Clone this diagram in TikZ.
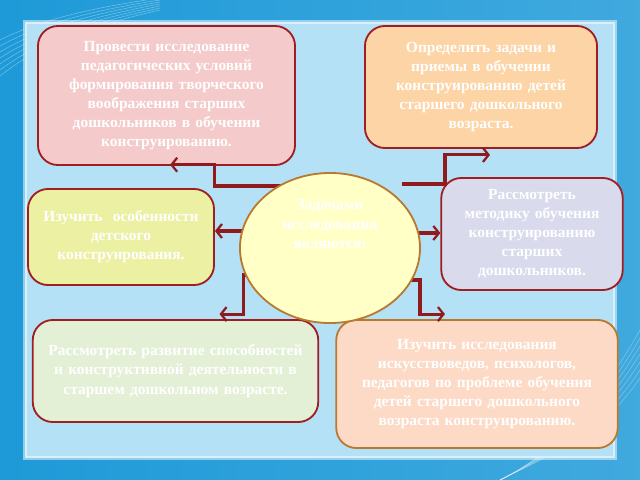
\documentclass[tikz,border=0pt]{standalone}
\usepackage{fontspec}
\setmainfont{Liberation Serif}
\usepackage{tikz}
\usetikzlibrary{arrows.meta, shapes.geometric, backgrounds}
\pgfdeclarelayer{front}
\pgfsetlayers{background,main,front}
\definecolor{seablue}{HTML}{1E9AD8}
\definecolor{panelblue}{HTML}{B4E1F6}
\definecolor{wine}{HTML}{A01E22}
\definecolor{rust}{HTML}{B87A30}
\definecolor{pinkfill}{HTML}{F4CACA}
\definecolor{orangefill}{HTML}{FCD4A6}
\definecolor{limefill}{HTML}{ECF0A2}
\definecolor{lilacfill}{HTML}{D9DAEC}
\definecolor{mintfill}{HTML}{E3F0D6}
\definecolor{peachfill}{HTML}{FCDAC6}
\definecolor{creamfill}{HTML}{FFFFC6}

\begin{document}
\begin{tikzpicture}[x=0.025cm,y=-0.025cm,semithick,
    link/.style={draw=wine!90!black,line width=2.2pt,-{Straight Barb[length=4pt,width=10pt,line width=1.6pt]}},
    txt/.style={text=white,font=\bfseries\fontsize{11}{13.6}\selectfont,align=center}]
    \tikzstyle{task}=[draw=wine,line width=1.3pt,rounded corners=0.5cm,txt]
    \useasboundingbox (0,0) rectangle (640,480);

    % boxes
    \node[task,fill=pinkfill,minimum width=6.425cm,minimum height=3.475cm,text width=5.8cm]
        (research) at (166.5,95.5) {Провести исследование\\педагогических условий\\формирования творческого\\воображения старших\\дошкольников в обучении\\конструированию.};
    \node[task,fill=orangefill,minimum width=5.8cm,minimum height=3.05cm,text width=5.4cm]
        (aims) at (481,87) {Определить задачи и\\приемы в обучении\\конструированию детей\\старшего дошкольного\\возраста.};
    \node[task,fill=limefill,minimum width=4.65cm,minimum height=2.4cm,text width=4.4cm]
        (features) at (121,237) {Изучить \ особенности\\детского\\конструирования.\\[5pt]};
    \node[task,fill=lilacfill,minimum width=4.5cm,minimum height=2.8cm,text width=4.3cm]
        (methods) at (532,234) {Рассмотреть\\методику обучения\\конструированию\\старших\\дошкольников.};
    \node[task,fill=mintfill,minimum width=7.125cm,minimum height=2.55cm,text width=6.9cm]
        (abilities) at (175.5,371) {Рассмотреть развитие способностей\\и конструктивной деятельности в\\старшем дошкольном возрасте.};
    \node[task,draw=rust,fill=peachfill,minimum width=7cm,minimum height=3.2cm,text width=6.8cm]
        (studies) at (477,384) {Изучить исследования\\искусствоведов, психологов,\\педагогов по проблеме обучения\\детей старшего дошкольного\\возраста конструированию.};

    % centre
    \begin{pgfonlayer}{front}
        \node[ellipse,draw=rust,fill=creamfill,line width=1.3pt,minimum width=4.5cm,minimum height=3.75cm]
            (ell) at (330,248) {};
        \node[txt] (elltext) at (330,224) {Задачами\\исследования\\являются:};
    \end{pgfonlayer}

    % connectors
    \draw[link] ([xshift=-1.2cm,yshift=1.55cm]ell.center) -| ([xshift=1.21cm,yshift=0.03cm]research.south) -- ([xshift=0.09cm,yshift=0.03cm]research.south);
    \draw[link] ([xshift=1.8cm,yshift=1.6cm]ell.center) -| ([xshift=-0.9cm,yshift=-0.15cm]aims.south) -- ([xshift=0.225cm,yshift=-0.15cm]aims.south);
    \draw[link] ([yshift=0.425cm]ell.center) coordinate (cl) -- (cl -| features.east);
    \draw[link] ([yshift=0.375cm]ell.center) coordinate (cr) -- (cr -| methods.west);
    \draw[link] ([xshift=-1.625cm,yshift=-0.675cm]ell.center) -| ([xshift=1.69cm,yshift=0.125cm]abilities.north) -- ([xshift=1.1cm,yshift=0.125cm]abilities.north);
    \draw[link] ([xshift=1.65cm,yshift=-0.8cm]ell.center) -| ([xshift=-1.425cm,yshift=0.125cm]studies.north) -- ([xshift=-0.8cm,yshift=0.125cm]studies.north);

    % background
    \begin{scope}[on background layer]
        \fill[left color=seablue,right color=seablue!85!white] (0,0) rectangle (640,480);
        \foreach \k in {0,...,6}
            \draw[white,opacity=0.35,thin] (0,40+6*\k) .. controls (40,20+4*\k) and (90,8+3*\k) .. (160,-2+2*\k);
        \foreach \k in {0,...,6}
            \draw[white,opacity=0.3,thin] (640,330+8*\k) .. controls (600,400+6*\k) and (560,450) .. (500,480);
        \fill[panelblue] (25,22) rectangle (615,458);
        \draw[white,opacity=0.5,line width=3pt] (25,22) rectangle (615,458);
    \end{scope}
\end{tikzpicture}
\end{document}
